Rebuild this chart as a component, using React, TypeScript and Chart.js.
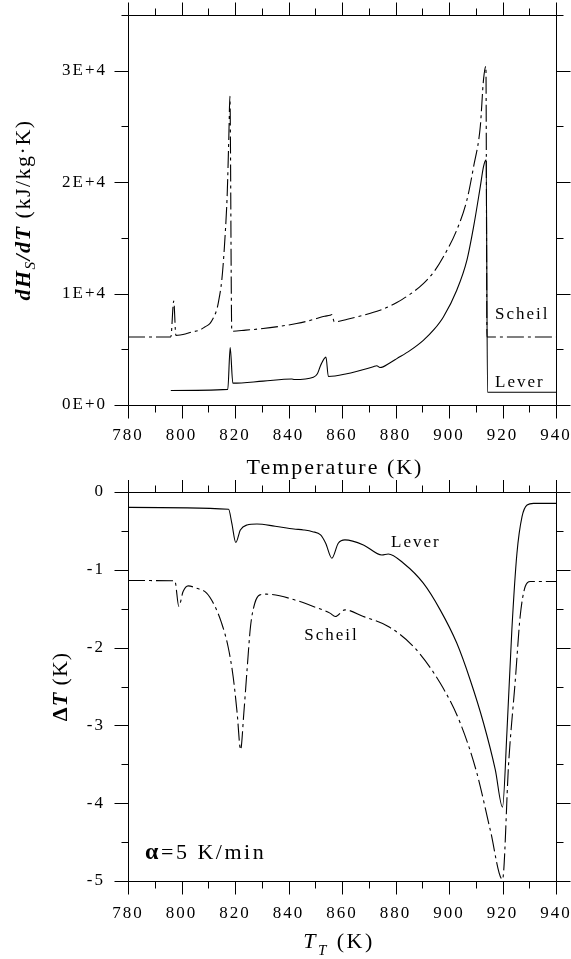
import React, { useEffect, useRef } from 'react';
import { Chart, registerables } from 'chart.js';

Chart.register(...registerables);

// ---------- data ----------
const X_MIN = 780;
const X_MAX = 940;
const X_MAJOR = 20;
const X_MINOR = 10;

// top panel: dHs/dT (kJ/kg·K)
const scheilHeatT = [780, 796.0, 797.1, 797.9, 801.9, 803.7, 806.8, 808.7, 810.6, 811.8, 813.1, 813.7, 815.1, 816.2, 817.1, 817.7, 818.1, 818.8, 824, 830.5, 836.5, 843, 847, 850.5, 853.5, 855.5, 856.2, 857.1, 862, 868, 874.2, 878, 880.5, 885.5, 890.4, 894.5, 897.9, 902.9, 906.7, 909.2, 911.7, 912.9, 913.8, 914.2, 940];
const scheilHeatVal = [6100, 6100, 9340, 6250, 6410, 6550, 6720, 7000, 7310, 7760, 8500, 9100, 11300, 14800, 19000, 24100, 27700, 6620, 6720, 6860, 7050, 7310, 7520, 7760, 7960, 8050, 8120, 7460, 7700, 8050, 8500, 8880, 9200, 9950, 10900, 12000, 13300, 15700, 18400, 21400, 25000, 29200, 30400, 6100, 6100];

const leverHeatT = [796.0, 817.3, 818.2, 819.2, 830.5, 841.2, 842.2, 849.3, 850.8, 852, 854, 854.9, 861.8, 871.7, 873, 874.2, 878, 880.5, 885.5, 890.4, 894.5, 897.9, 902.9, 906.7, 909.2, 911.7, 912.9, 913.9, 914.4, 940];
const leverHeatVal = [1300, 1400, 5150, 1960, 2140, 2330, 2290, 2500, 2800, 3550, 4300, 2560, 2810, 3430, 3520, 3360, 3800, 4160, 4900, 5800, 6800, 7900, 10300, 13000, 16000, 19600, 21400, 22000, 1150, 1150];

const heatTickValues = [0, 10000, 20000, 30000];
const heatTickLabels = ['0E+0', '1E+4', '2E+4', '3E+4'];
const HEAT_MIN = 0;
const HEAT_MAX = 35000;
const HEAT_MAJOR = 10000;
const HEAT_MINOR = 5000;

// bottom panel: ΔT (K) vs T_T
const leverDeltaT = [780, 817.6, 818.8, 820.3, 822, 824.5, 828.2, 835, 842, 845.7, 849, 852, 853.9, 856.2, 858.6, 861.1, 868, 874.9, 877.3, 883, 890.4, 896.7, 902.9, 907.9, 912.9, 917.3, 920, 921.7, 923.5, 925.4, 927.3, 929.2, 931.6, 940];
const leverDeltaVal = [-0.197, -0.222, -0.40, -0.65, -0.488, -0.424, -0.411, -0.44, -0.475, -0.488, -0.51, -0.552, -0.659, -0.851, -0.659, -0.616, -0.68, -0.809, -0.796, -0.916, -1.172, -1.515, -1.942, -2.413, -2.969, -3.569, -4.05, -3.055, -1.77, -0.787, -0.317, -0.167, -0.146, -0.146];

const scheilDeltaT = [780, 797.5, 799, 800.6, 802.5, 805.6, 809.4, 812.5, 815, 817.4, 819.3, 820.8, 822.1, 823.3, 824.6, 825.8, 827.4, 829.3, 831.8, 844.3, 850, 855.5, 857.5, 861.1, 868, 877.3, 886.7, 896.7, 904.2, 910.4, 915.4, 920, 922.3, 924.8, 926.6, 928.5, 930.4, 940];
const scheilDeltaVal = [-1.138, -1.142, -1.47, -1.28, -1.207, -1.237, -1.30, -1.47, -1.686, -1.986, -2.371, -2.841, -3.312, -2.841, -2.243, -1.729, -1.43, -1.322, -1.313, -1.408, -1.48, -1.557, -1.60, -1.515, -1.60, -1.729, -1.986, -2.456, -2.969, -3.611, -4.339, -4.98, -3.483, -2.413, -1.60, -1.215, -1.151, -1.15];

const DELTA_MIN = -5;
const DELTA_MAX = 0;
const DELTA_MAJOR = 1;
const DELTA_MINOR = 0.5;

// ---------- styling ----------
const SERIF = '"Liberation Serif", "Times New Roman", Times, serif';
const SCHEIL_DASH = [17, 4, 3, 4];

type Seg = { t: string; font: string; dy?: number };

function drawRich(
  ctx: CanvasRenderingContext2D,
  segs: Seg[],
  x: number,
  y: number,
  align: 'left' | 'center',
  spacing: number,
  rotate = false
) {
  ctx.save();
  ctx.translate(x, y);
  if (rotate) ctx.rotate(-Math.PI / 2);
  (ctx as any).letterSpacing = spacing + 'px';
  ctx.textBaseline = 'alphabetic';
  ctx.textAlign = 'left';
  ctx.fillStyle = '#000';
  let total = 0;
  const widths = segs.map((s) => {
    ctx.font = s.font;
    const w = ctx.measureText(s.t).width;
    total += w;
    return w;
  });
  let cx = align === 'center' ? -total / 2 : 0;
  segs.forEach((s, i) => {
    ctx.font = s.font;
    ctx.fillText(s.t, cx, s.dy || 0);
    cx += widths[i];
  });
  ctx.restore();
}

function isMultiple(v: number, step: number) {
  const r = v / step;
  return Math.abs(r - Math.round(r)) < 1e-6;
}

function framePlugin(
  yMin: number,
  yMax: number,
  yMajor: number,
  yMinor: number,
  decorate: (chart: any) => void
) {
  return {
    id: 'frame',
    beforeDraw(chart: any) {
      (chart.ctx as any).letterSpacing = '2px';
    },
    afterDraw(chart: any) {
      const { ctx, chartArea: a, scales } = chart;
      ctx.save();
      (ctx as any).letterSpacing = '0px';
      ctx.strokeStyle = '#000';
      ctx.lineWidth = 1;
      const L = Math.round(a.left) + 0.5;
      const R = Math.round(a.right) + 0.5;
      const T = Math.round(a.top) + 0.5;
      const B = Math.round(a.bottom) + 0.5;
      ctx.beginPath();
      ctx.rect(L, T, R - L, B - T);
      // x ticks (outward, top and bottom)
      for (let v = X_MIN; v <= X_MAX + 1e-6; v += X_MINOR) {
        const px = Math.round(scales.x.getPixelForValue(v)) + 0.5;
        const len = isMultiple(v - X_MIN, X_MAJOR) ? 13 : 7;
        ctx.moveTo(px, B);
        ctx.lineTo(px, B + len);
        ctx.moveTo(px, T);
        ctx.lineTo(px, T - len);
      }
      // y ticks (outward, left and right)
      for (let v = yMin; v <= yMax + 1e-6; v += yMinor) {
        const py = Math.round(scales.y.getPixelForValue(v)) + 0.5;
        const len = isMultiple(v, yMajor) ? 14 : 7;
        ctx.moveTo(L, py);
        ctx.lineTo(L - len, py);
        ctx.moveTo(R, py);
        ctx.lineTo(R + len, py);
      }
      ctx.stroke();
      ctx.restore();
      decorate(chart);
    },
  };
}

function toPoints(xs: number[], ys: number[]) {
  return xs.map((x, i) => ({ x, y: ys[i] }));
}

function lineDataset(label: string, data: { x: number; y: number }[], dashed: boolean) {
  return {
    label,
    data,
    borderColor: '#000',
    backgroundColor: '#000',
    borderWidth: 1.1,
    borderDash: dashed ? SCHEIL_DASH : [],
    pointRadius: 0,
    fill: false,
    cubicInterpolationMode: 'monotone' as const,
  };
}

function xScale(labelPad: number, axisHeight: number) {
  return {
    type: 'linear' as const,
    min: X_MIN,
    max: X_MAX,
    grid: { display: false, drawTicks: false },
    border: { display: false },
    ticks: {
      stepSize: X_MAJOR,
      autoSkip: false,
      maxRotation: 0,
      padding: labelPad,
      color: '#000',
      font: { family: SERIF, size: 17 },
      callback: (v: any) => String(v),
    },
    afterFit: (s: any) => {
      s.height = axisHeight;
      s.paddingLeft = 0;
      s.paddingRight = 0;
    },
  };
}

const W = 571;
const TOP_H = 480;
const BOT_H = 479;

export default function App() {
  const topRef = useRef<HTMLCanvasElement>(null);
  const botRef = useRef<HTMLCanvasElement>(null);

  useEffect(() => {
    const topCanvas = topRef.current!;
    const botCanvas = botRef.current!;

    const top = new Chart(topCanvas, {
      type: 'line',
      data: {
        datasets: [
          lineDataset('Scheil', toPoints(scheilHeatT, scheilHeatVal), true),
          lineDataset('Lever', toPoints(leverHeatT, leverHeatVal), false),
        ],
      },
      options: {
        animation: false,
        responsive: false,
        maintainAspectRatio: false,
        devicePixelRatio: 1,
        layout: { padding: { top: 15, right: 15, left: 0, bottom: 0 } },
        plugins: { legend: { display: false }, tooltip: { enabled: false } },
        scales: {
          x: xScale(20, TOP_H - 405),
          y: {
            type: 'linear',
            min: HEAT_MIN,
            max: HEAT_MAX,
            grid: { display: false, drawTicks: false },
            border: { display: false },
            afterBuildTicks: (s: any) => {
              s.ticks = heatTickValues.map((value) => ({ value }));
            },
            ticks: {
              autoSkip: false,
              padding: 21,
              color: '#000',
              font: { family: SERIF, size: 17 },
              callback: (v: any) => {
                const n = Number(v);
                const i = heatTickValues.findIndex((tv) => Math.abs(tv - n) < 1);
                return i >= 0 ? heatTickLabels[i] : '';
              },
            },
            afterFit: (s: any) => {
              s.width = 128;
              s.paddingTop = 0;
              s.paddingBottom = 0;
            },
          },
        },
      } as any,
      plugins: [
        framePlugin(HEAT_MIN, HEAT_MAX, HEAT_MAJOR, HEAT_MINOR, (chart: any) => {
          const { ctx, chartArea: a, scales } = chart;
          const cx = (a.left + a.right) / 2;
          drawRich(ctx, [{ t: 'Temperature (K)', font: `22px ${SERIF}` }], cx - 7, a.bottom + 69, 'center', 2);
          drawRich(
            ctx,
            [
              { t: 'dH', font: `italic bold 22px ${SERIF}` },
              { t: 'S', font: `italic 15px ${SERIF}`, dy: 5 },
              { t: '/dT', font: `italic bold 22px ${SERIF}` },
              { t: ' (kJ/kg·K)', font: `22px ${SERIF}` },
            ],
            30,
            (a.top + a.bottom) / 2,
            'center',
            1.5,
            true
          );
          drawRich(ctx, [{ t: 'Scheil', font: `17px ${SERIF}` }], scales.x.getPixelForValue(917.2), scales.y.getPixelForValue(7700), 'left', 2);
          drawRich(ctx, [{ t: 'Lever', font: `17px ${SERIF}` }], scales.x.getPixelForValue(917.2), scales.y.getPixelForValue(1650), 'left', 2);
        }),
      ],
    });

    const bot = new Chart(botCanvas, {
      type: 'line',
      data: {
        datasets: [
          lineDataset('Scheil', toPoints(scheilDeltaT, scheilDeltaVal), true),
          lineDataset('Lever', toPoints(leverDeltaT, leverDeltaVal), false),
        ],
      },
      options: {
        animation: false,
        responsive: false,
        maintainAspectRatio: false,
        devicePixelRatio: 1,
        layout: { padding: { top: 12, right: 15, left: 0, bottom: 0 } },
        plugins: { legend: { display: false }, tooltip: { enabled: false } },
        scales: {
          x: xScale(22, BOT_H - 401),
          y: {
            type: 'linear',
            min: DELTA_MIN,
            max: DELTA_MAX,
            grid: { display: false, drawTicks: false },
            border: { display: false },
            ticks: {
              stepSize: DELTA_MAJOR,
              padding: 23,
              color: '#000',
              font: { family: SERIF, size: 17 },
              callback: (v: any) => String(Math.round(Number(v))),
            },
            afterFit: (s: any) => {
              s.width = 128;
              s.paddingTop = 0;
              s.paddingBottom = 0;
            },
          },
        },
      } as any,
      plugins: [
        framePlugin(DELTA_MIN, DELTA_MAX, DELTA_MAJOR, DELTA_MINOR, (chart: any) => {
          const { ctx, chartArea: a, scales } = chart;
          drawRich(
            ctx,
            [
              { t: 'T', font: `italic 22px ${SERIF}` },
              { t: 'T', font: `italic 15px ${SERIF}`, dy: 7 },
              { t: ' (K)', font: `22px ${SERIF}` },
            ],
            339,
            a.bottom + 67,
            'center',
            2.5
          );
          drawRich(
            ctx,
            [
              { t: 'Δ', font: `bold 22px ${SERIF}` },
              { t: 'T', font: `italic bold 22px ${SERIF}` },
              { t: ' (K)', font: `22px ${SERIF}` },
            ],
            67,
            (a.top + a.bottom) / 2,
            'center',
            1,
            true
          );
          drawRich(ctx, [{ t: 'Lever', font: `17px ${SERIF}` }], scales.x.getPixelForValue(887.6), scales.y.getPixelForValue(-0.703), 'center', 2);
          drawRich(ctx, [{ t: 'Scheil', font: `17px ${SERIF}` }], scales.x.getPixelForValue(856.1), scales.y.getPixelForValue(-1.902), 'center', 2);
          drawRich(
            ctx,
            [
              { t: 'α', font: `bold 24px ${SERIF}` },
              { t: '=5 K/min', font: `22px ${SERIF}` },
            ],
            scales.x.getPixelForValue(786.4),
            scales.y.getPixelForValue(-4.721),
            'left',
            2.5
          );
        }),
      ],
    });

    return () => {
      top.destroy();
      bot.destroy();
    };
  }, []);

  return (
    <div style={{ position: 'absolute', left: 0, top: 0, width: W, height: TOP_H + BOT_H, background: '#fff' }}>
      <canvas ref={topRef} width={W} height={TOP_H} style={{ position: 'absolute', left: 0, top: 0, width: W, height: TOP_H, display: 'block' }} />
      <canvas ref={botRef} width={W} height={BOT_H} style={{ position: 'absolute', left: 0, top: TOP_H, width: W, height: BOT_H, display: 'block' }} />
    </div>
  );
}
